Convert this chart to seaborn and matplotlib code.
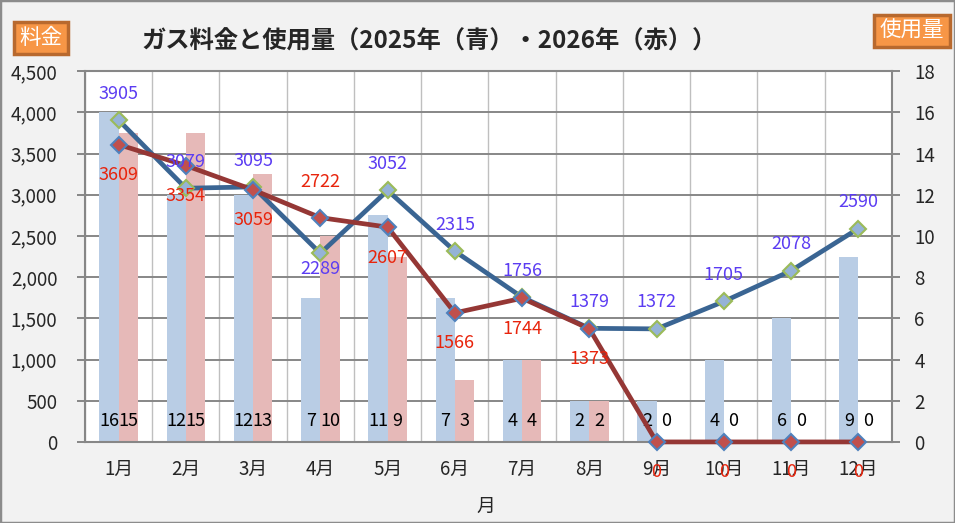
import numpy as np
import pandas as pd
import matplotlib
matplotlib.use('Agg')
import matplotlib.pyplot as plt
import seaborn as sns
from matplotlib.ticker import MultipleLocator, FuncFormatter
from matplotlib.patches import Rectangle

# データ
months = [f'{i}月' for i in range(1, 13)]
usage_2025 = [16, 12, 12, 7, 11, 7, 4, 2, 2, 4, 6, 9]
usage_2026 = [15, 15, 13, 10, 9, 3, 4, 2, 0, 0, 0, 0]
price_2025 = [3905, 3079, 3095, 2289, 3052, 2315, 1756, 1379, 1372, 1705, 2078, 2590]
price_2026 = [3609, 3354, 3059, 2722, 2607, 1566, 1744, 1373, 0, 0, 0, 0]

# 値ラベルのずらし量（ポイント）
off_2025 = [19] * 12
off_2025[3] = -11
off_2026 = [-22] * 12
off_2026[3] = 26

sns.set_theme(style='white')
plt.rcParams['font.family'] = ['Noto Sans CJK JP', 'DejaVu Sans']

fig = plt.figure(figsize=(9.55, 5.23), dpi=100, facecolor='#F2F2F2')
ax = fig.add_axes([0.089, 0.155, 0.845, 0.709])
ax.set_facecolor('white')

# 使用量（棒グラフ、右軸）
df_use = pd.DataFrame({
    '月': months * 2,
    '使用量': usage_2025 + usage_2026,
    '年': ['2025'] * 12 + ['2026'] * 12,
})
sns.barplot(data=df_use, x='月', y='使用量', hue='年', palette=['#B9CDE5', '#E6B9B8'],
            width=0.57, gap=0, saturation=1, linewidth=0, legend=False, ax=ax)

for cont in ax.containers:
    for patch, v in zip(cont.patches, cont.datavalues):
        ax.text(patch.get_x() + patch.get_width() / 2, 1.0, f'{v:.0f}',
                ha='center', va='center', fontsize=13, color='black')

ax.set_ylim(0, 18)
ax.set_xlim(-0.5, 11.5)
ax.yaxis.set_major_locator(MultipleLocator(2))
ax.set_xticks(np.arange(-0.5, 12, 1), minor=True)
ax.grid(axis='y', which='major', color='#878787', lw=1.4)
ax.grid(axis='x', which='minor', color='#BFBFBF', lw=1)
ax.set_axisbelow(True)
ax.tick_params(axis='x', which='major', length=0, pad=12, labelsize=13.5)
ax.tick_params(axis='x', which='minor', length=7, width=1.4, color='#878787', direction='out')
for s in ax.spines.values():
    s.set_color('#878787')
    s.set_linewidth(1.5)
ax.set_xlabel('')
ax.set_ylabel('')

# 料金（折れ線、左軸）
ax2 = ax.twinx()
# twinx で元の軸の目盛りが左に戻るので右へ
ax.yaxis.tick_right()
ax.tick_params(axis='y', length=6, width=1.4, color='#878787', pad=10, labelsize=13.5)

x = np.arange(len(months))
sns.lineplot(x=x, y=price_2025, ax=ax2, color='#3A6593', lw=3.4, marker='D', ms=8,
             mfc='#95B3D7', mec='#9BBB59', mew=1.5, clip_on=False)
sns.lineplot(x=x, y=price_2026, ax=ax2, color='#953735', lw=3.4, marker='D', ms=8,
             mfc='#C0504D', mec='#4F81BD', mew=1.5, clip_on=False)

for i, v in enumerate(price_2025):
    ax2.annotate(str(v), (i, v), xytext=(0, off_2025[i]), textcoords='offset points',
                 ha='center', va='center', fontsize=13, color='#5B3CF2', annotation_clip=False)
for i, v in enumerate(price_2026):
    ax2.annotate(str(v), (i, v), xytext=(0, off_2026[i]), textcoords='offset points',
                 ha='center', va='center', fontsize=13, color='#E8240C', annotation_clip=False)

ax2.set_ylim(0, 4500)
ax2.set_xlim(-0.5, 11.5)
ax2.yaxis.tick_left()
ax2.yaxis.set_major_locator(MultipleLocator(500))
ax2.yaxis.set_major_formatter(FuncFormatter(lambda v, p: f'{v:,.0f}'))
ax2.tick_params(axis='y', length=6, width=1.4, color='#878787', pad=14, labelsize=13.5)
for s in ax2.spines.values():
    s.set_visible(False)
ax2.set_ylabel('')

# タイトル・軸ラベル
fig.text(429 / 955, 1 - 42 / 523, 'ガス料金と使用量（2025年（青）・2026年（赤））',
         ha='center', va='center', fontsize=17.5, fontweight='bold')
fig.text(486 / 955, 1 - 506 / 523, '月', ha='center', va='center', fontsize=13.5)

box = dict(boxstyle='square,pad=0.25', fc='#F79646', ec='#B8692E', lw=2.5)
fig.text(41 / 955, 1 - 38 / 523, '料金', ha='center', va='center', fontsize=15.5,
         color='white', bbox=box)
fig.text(912 / 955, 1 - 31 / 523, '使用量', ha='center', va='center', fontsize=15.5,
         color='white', bbox=box)

fig.patches.append(Rectangle((0, 0), 1, 1, transform=fig.transFigure, fill=False,
                             ec='#8C8C8C', lw=2.5))

fig.savefig('out.png', dpi=100, facecolor=fig.get_facecolor())
